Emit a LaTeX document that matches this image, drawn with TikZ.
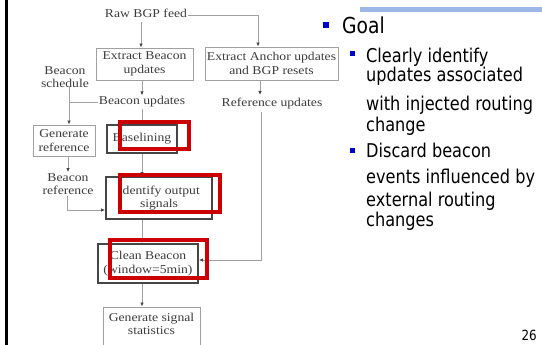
\documentclass[tikz,border=0pt]{standalone}
\usepackage{fontspec}
\setmainfont{DejaVu Sans}[FakeStretch=0.85]
\newfontfamily\diagfont{Liberation Serif}[FakeStretch=1.14]
\usetikzlibrary{arrows.meta}

\definecolor{hlred}{RGB}{204,0,0}
\definecolor{bulletblue}{RGB}{0,0,204}
\definecolor{barblue}{RGB}{155,184,230}
\definecolor{diagtext}{RGB}{60,60,60}
\definecolor{lightedge}{RGB}{160,160,160}
\definecolor{darkedge}{RGB}{70,70,70}

\tikzset{
  dtext/.style={font=\diagfont\fontsize{12}{13.5}\selectfont, text=diagtext, align=center, inner sep=1pt},
  lbox/.style={dtext, draw=lightedge, line width=0.9pt},
  dbox/.style={dtext, draw=darkedge, line width=1.8pt},
  conn/.style={draw=lightedge, line width=0.9pt},
  arr/.style={conn, -{Latex[length=4pt,width=3.5pt,color=darkedge]}},
  hl/.style={draw=hlred, line width=4pt},
  rt/.style={font=\fontsize{19}{22}\selectfont, inner sep=0pt, text=black},
  sq/.style={fill=bulletblue, inner sep=0pt, minimum size=#1},
}

\begin{document}
\begin{tikzpicture}[x=1pt,y=-1pt]
\useasboundingbox (0,0) rectangle (542,345);

% slide frame: left rule and top accent bar
\fill[black] (5,0) rectangle (8,345);
\fill[barblue] (360,7) rectangle (542,12);

% process boxes
\node[lbox, minimum width=97, minimum height=32] (eb) at (144.5,64) {Extract Beacon\\updates};
\node[lbox, minimum width=133, minimum height=33] (ea) at (271.5,63.5) {Extract Anchor updates\\and BGP resets};
\node[lbox, minimum width=62, minimum height=31] (gr) at (64,140.5) {Generate\\reference};
\node[dbox, minimum width=70, minimum height=28] (bl) at (142,139) {Baselining};
\node[dbox, minimum width=106, minimum height=42] (io) at (159,198) {Identify output\\signals};
\node[dbox, minimum width=100, minimum height=39] (cb) at (148,263.5) {Clean Beacon\\(window=5min)};
\node[lbox, minimum width=97, minimum height=46] (gs) at (151.5,330) {};
\node[dtext] (gst) at (151.5,324) {Generate signal\\statistics};

% data labels
\node[dtext] (raw) at (146,13) {Raw BGP feed};
\node[dtext] (bs) at (65,77) {Beacon\\schedule};
\node[dtext] (bu) at (142,102) {Beacon updates};
\node[dtext] (ru) at (272,104) {Reference updates};
\node[dtext] (br) at (68,184) {Beacon\\reference};

% junction points of the connectors
\coordinate (rawA) at (141,22);
\coordinate (rawB) at (258,15);
\coordinate (bsB) at (69,87);
\coordinate (ruTop) at (260,95);
\coordinate (ruBot) at (261,112);
\coordinate (ruC) at (261,260);
\coordinate (brC) at (67,210);

% connectors
\draw[arr] (rawA) -- (rawA |- eb.north);
\draw[arr] (raw.east |- rawB) -- (rawB) -- (rawB |- ea.north);
\draw[arr] (eb.south -| bu.north) -- (bu.north);
\draw[arr] (ea.south -| ruTop) -- (ruTop);
\draw[conn] (bsB |- bu.west) -- (bu.west);
\draw[arr] (bsB) -- (bsB |- gr.north);
\draw[conn] (bu.south) -- (bu.south |- bl.north);
\draw[arr] (br.north |- gr.south) -- (br.north);
\draw[arr] (br.south -| brC) -- (brC) -- (brC -| io.west);
\draw[arr] (bl.south) -- (bl.south |- io.north);
\draw[arr] (io.south -| bl.south) -- (cb.north -| bl.south);
\draw[arr] (ruBot) -- (ruC) -- (ruC -| cb.east);
\draw[arr] (cb.south -| bl.south) -- (gs.north -| bl.south);

% red highlight frames
\node[hl, inner sep=0pt, minimum width=69, minimum height=27] (hlA) at (154.5,136) {};
\node[hl, inner sep=0pt, minimum width=100, minimum height=37] (hlB) at (170,193.5) {};
\node[hl, inner sep=0pt, minimum width=97, minimum height=38] (hlC) at (158.5,259) {};

% bullet list
\node[sq=6pt] (b0) at (325.5,25) {};
\node[font=\fontsize{22}{26}\selectfont, inner sep=0pt, anchor=base west] (goal) at (342,34) {Goal};
\node[sq=5pt] (b1) at (352.5,53.5) {};
\node[rt, anchor=base west] (l1) at (366,63) {Clearly identify};
\node[rt, anchor=base west] (l2) at (366,82) {updates associated};
\node[rt, anchor=base west] (l3) at (366,111) {with injected routing};
\node[rt, anchor=base west] (l4) at (366,132) {change};
\node[sq=5pt] (b2) at (352.5,150.5) {};
\node[rt, anchor=base west] (l5) at (366,158) {Discard beacon};
\node[rt, anchor=base west] (l6) at (366,183) {events influenced by};
\node[rt, anchor=base west] (l7) at (366,207) {external routing};
\node[rt, anchor=base west] (l8) at (366,226) {changes};

% page number
\node[font=\fontsize{14}{16}\selectfont, inner sep=0pt, anchor=base east] (pg) at (537,340) {26};
\end{tikzpicture}
\end{document}
